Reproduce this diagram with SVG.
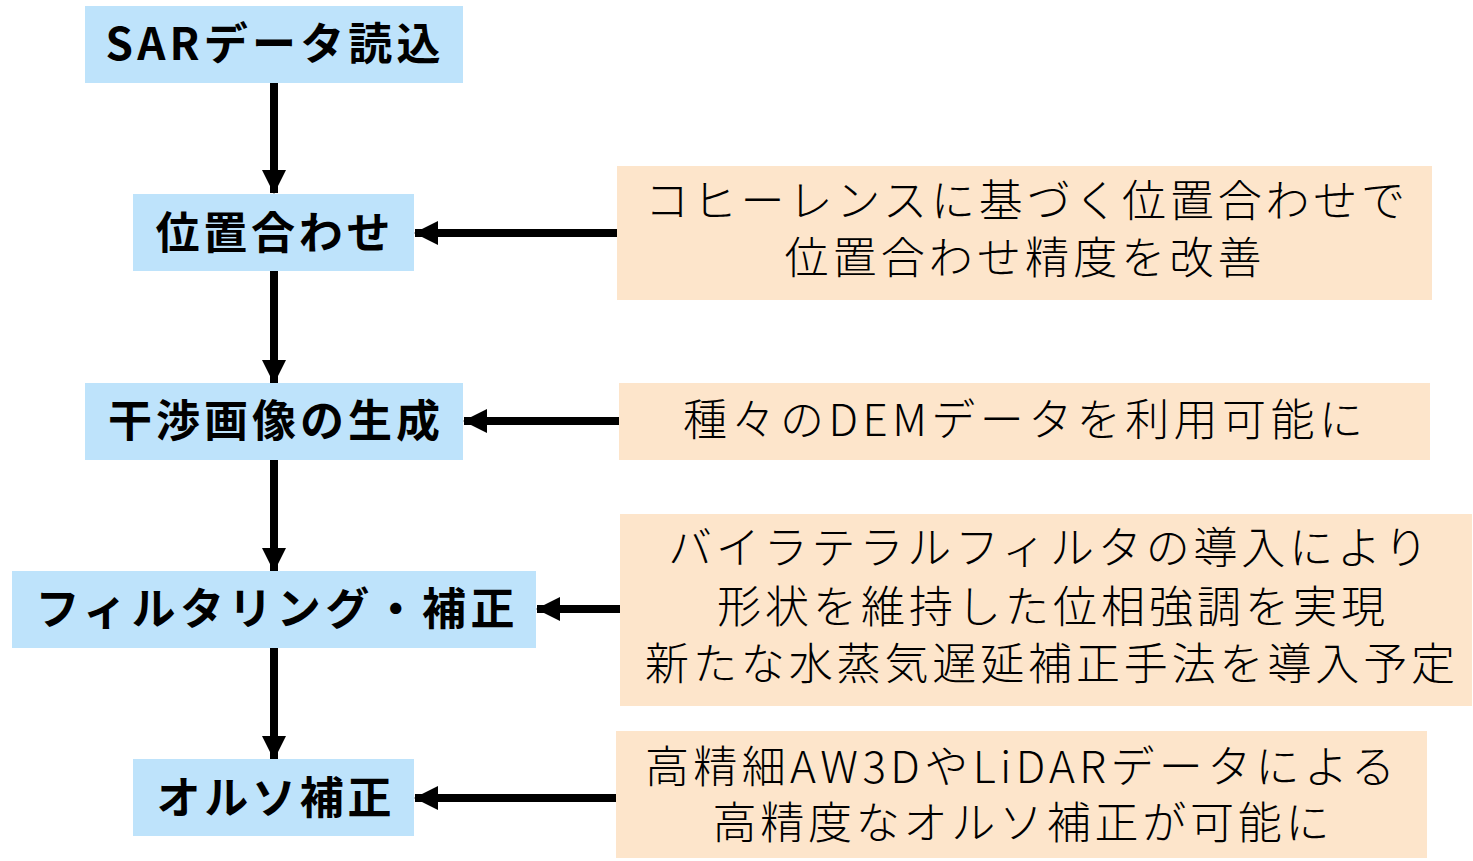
<svg xmlns="http://www.w3.org/2000/svg" width="1473" height="861" viewBox="0 0 1473 861">
<style>
.step{fill:#BEE3FB}
.note{fill:#FDE5CB}
.lbl{font-family:"Noto Sans CJK JP","Noto Sans",sans-serif;font-weight:700;font-size:44px;fill:#000;text-anchor:middle}
.txt{font-family:"Noto Sans CJK JP","Noto Sans",sans-serif;font-weight:300;font-size:44px;fill:#000;text-anchor:middle}
.ln{stroke:#000;stroke-width:8;fill:none}
</style>
<defs>
<marker id="ah" markerUnits="userSpaceOnUse" markerWidth="24" markerHeight="24" refX="23" refY="12" orient="auto" viewBox="0 0 24 24">
<path d="M0,0 L24,12 L0,24 Z" fill="#000"/>
</marker>
</defs>
<rect width="1473" height="861" fill="#fff"/>
<g id="connectors">
<line class="ln" x1="274" y1="83" x2="274" y2="193" marker-end="url(#ah)"/>
<line class="ln" x1="274" y1="271" x2="274" y2="383" marker-end="url(#ah)"/>
<line class="ln" x1="274" y1="460" x2="274" y2="571" marker-end="url(#ah)"/>
<line class="ln" x1="274" y1="648" x2="274" y2="759" marker-end="url(#ah)"/>
<line class="ln" x1="617" y1="233" x2="415" y2="233" marker-end="url(#ah)"/>
<line class="ln" x1="619" y1="421" x2="464" y2="421" marker-end="url(#ah)"/>
<line class="ln" x1="620" y1="609" x2="537" y2="609" marker-end="url(#ah)"/>
<line class="ln" x1="616" y1="798" x2="415" y2="798" marker-end="url(#ah)"/>
</g>
<g id="n1"><rect class="step" x="85" y="6" width="378" height="77"/><text class="lbl" x="273" y="60" textLength="335" lengthAdjust="spacing">SARデータ読込</text></g>
<g id="n2"><rect class="step" x="133" y="194" width="281" height="77"/><text class="lbl" x="273" y="249" textLength="235" lengthAdjust="spacing">位置合わせ</text></g>
<g id="n3"><rect class="step" x="85" y="383" width="378" height="77"/><text class="lbl" x="274" y="437" textLength="332" lengthAdjust="spacing">干渉画像の生成</text></g>
<g id="n4"><rect class="step" x="12" y="571" width="524" height="77"/><text class="lbl" x="275" y="625" textLength="479" lengthAdjust="spacing">フィルタリング・補正</text></g>
<g id="n5"><rect class="step" x="133" y="759" width="281" height="77"/><text class="lbl" x="274" y="814" textLength="235" lengthAdjust="spacing">オルソ補正</text></g>
<g id="c1"><rect class="note" x="617" y="166" width="815" height="134"/>
<text class="txt" x="1025" y="217" textLength="760" lengthAdjust="spacing">コヒーレンスに基づく位置合わせで</text>
<text class="txt" x="1023" y="274" textLength="477" lengthAdjust="spacing">位置合わせ精度を改善</text></g>
<g id="c2"><rect class="note" x="619" y="383" width="811" height="77"/>
<text class="txt" x="1023" y="436" textLength="680" lengthAdjust="spacing">種々のDEMデータを利用可能に</text></g>
<g id="c3"><rect class="note" x="620" y="514" width="852" height="192"/>
<text class="txt" x="1048" y="564" textLength="760" lengthAdjust="spacing">バイラテラルフィルタの導入により</text>
<text class="txt" x="1051" y="623" textLength="668" lengthAdjust="spacing">形状を維持した位相強調を実現</text>
<text class="txt" x="1050" y="680" textLength="810" lengthAdjust="spacing">新たな水蒸気遅延補正手法を導入予定</text></g>
<g id="c4"><rect class="note" x="616" y="731" width="811" height="127"/>
<text class="txt" x="1020" y="783" textLength="750" lengthAdjust="spacing">高精細AW3DやLiDARデータによる</text>
<text class="txt" x="1021" y="839" textLength="617" lengthAdjust="spacing">高精度なオルソ補正が可能に</text></g>
</svg>
